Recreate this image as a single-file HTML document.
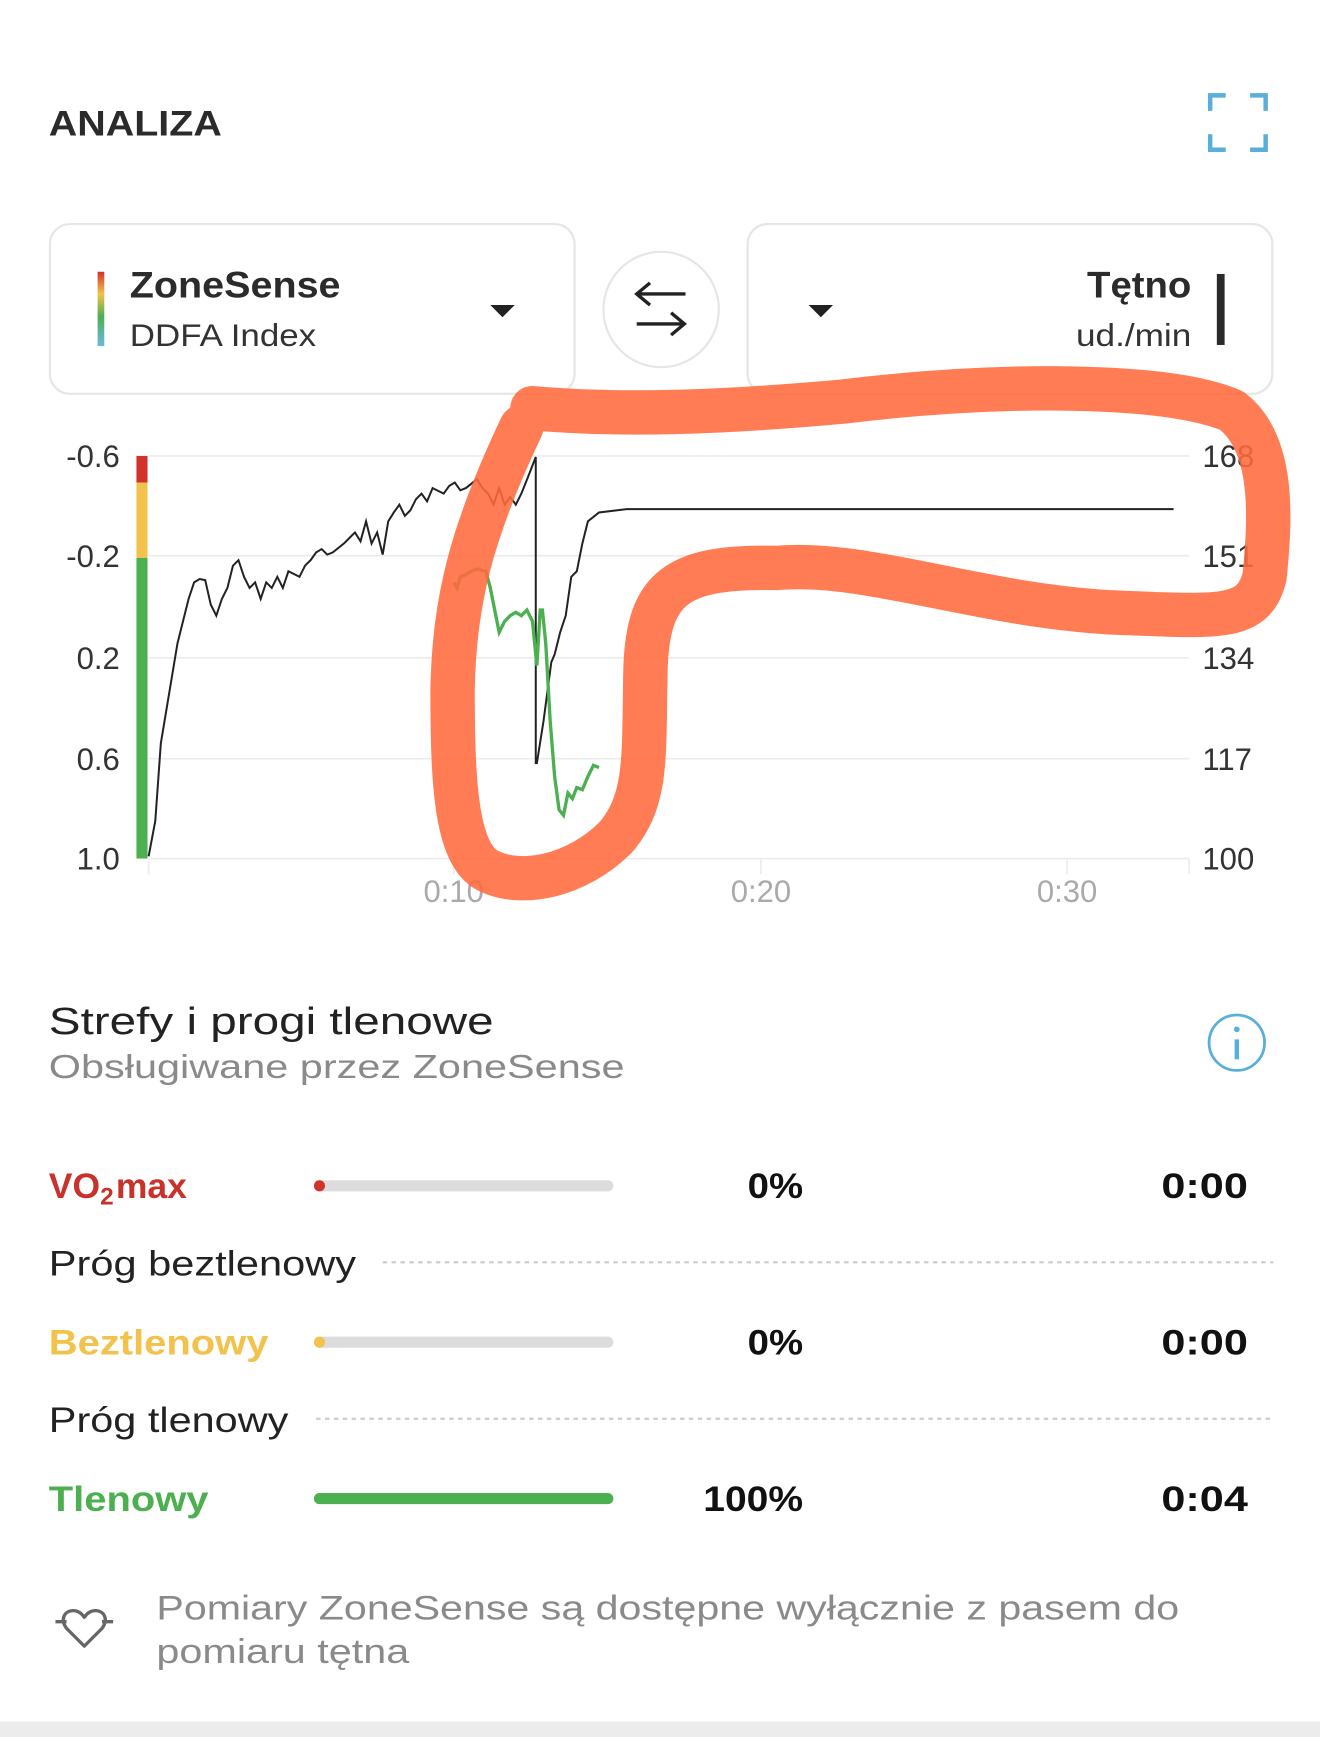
<!DOCTYPE html>
<html><head><meta charset="utf-8">
<style>
html,body{margin:0;padding:0;background:#fff;overflow:hidden;}
#w{width:1190px;height:1566px;transform:scale(1.109244);transform-origin:0 0;position:relative;font-family:"Liberation Sans",sans-serif;}
svg{position:absolute;left:0;top:0;}
</style></head><body><div id="w">
<svg width="1190" height="1566" viewBox="0 0 1190 1566" font-family="Liberation Sans, sans-serif">
<defs><linearGradient id="g" x1="0" y1="0" x2="0" y2="1">
<stop offset="0" stop-color="#d2322a"/><stop offset="0.3" stop-color="#f2c24c"/><stop offset="0.6" stop-color="#4caf50"/><stop offset="1" stop-color="#6bb8e0"/></linearGradient></defs>
<text x="44" y="122" font-size="32" font-weight="bold" fill="#2b2b2b" textLength="156" lengthAdjust="spacingAndGlyphs">ANALIZA</text>
<g stroke="#5aaedc" stroke-width="4" fill="none">
<path d="M1091 100V86H1105M1127 86H1141V100M1141 121V135H1127M1105 135H1091V121"/></g>
<rect x="45" y="202" width="473" height="153" rx="18" fill="#fff" stroke="#e6e6e6" stroke-width="2"/>
<rect x="674" y="202" width="473" height="153" rx="18" fill="#fff" stroke="#e6e6e6" stroke-width="2"/>
<rect x="88" y="245" width="6" height="67" fill="url(#g)"/>
<text x="117" y="268" font-size="33" font-weight="bold" fill="#2b2b2b" textLength="190" lengthAdjust="spacingAndGlyphs">ZoneSense</text>
<text x="117" y="312" font-size="28" fill="#333" textLength="168" lengthAdjust="spacingAndGlyphs">DDFA Index</text>
<path d="M442 275H464L453 286Z" fill="#222"/>
<path d="M729 275H751L740 286Z" fill="#222"/>
<circle cx="596" cy="279" r="52" fill="#fff" stroke="#e6e6e6" stroke-width="2"/>
<g stroke="#222" stroke-width="3" fill="none"><path d="M618 265H575M586 255L574 265L586 275M574 292H617M605 282L617 292L605 302"/></g>
<text x="980" y="268" font-size="33" font-weight="bold" fill="#2b2b2b" textLength="94" lengthAdjust="spacingAndGlyphs">Tętno</text>
<text x="970" y="312" font-size="28" fill="#333" textLength="104" lengthAdjust="spacingAndGlyphs">ud./min</text>
<rect x="1097" y="247" width="7" height="64" fill="#2b2b2b"/>
<g stroke="#ececec" stroke-width="1.5">
<line x1="134" y1="411" x2="1072" y2="411"/><line x1="134" y1="501" x2="1072" y2="501"/><line x1="134" y1="593" x2="1072" y2="593"/><line x1="134" y1="684" x2="1072" y2="684"/><line x1="134" y1="774" x2="1072" y2="774"/>
<line x1="134" y1="774" x2="134" y2="788"/><line x1="409" y1="774" x2="409" y2="788"/><line x1="686" y1="774" x2="686" y2="788"/><line x1="962" y1="774" x2="962" y2="788"/><line x1="1072" y1="774" x2="1072" y2="788"/></g>
<g font-size="28" fill="#333" text-anchor="end">
<text x="108" y="421">-0.6</text><text x="108" y="511">-0.2</text><text x="108" y="603">0.2</text><text x="108" y="694">0.6</text><text x="108" y="784">1.0</text></g>
<g font-size="28" fill="#333">
<text x="1084" y="421">168</text><text x="1084" y="511">151</text><text x="1084" y="603">134</text><text x="1084" y="694">117</text><text x="1084" y="784">100</text></g>
<g font-size="28" fill="#aaa" text-anchor="middle"><text x="409" y="813">0:10</text><text x="686" y="813">0:20</text><text x="962" y="813">0:30</text></g>
<rect x="123" y="411" width="10" height="24" fill="#d2322a"/><rect x="123" y="435" width="10" height="68" fill="#f2c24c"/><rect x="123" y="503" width="10" height="271" fill="#4caf50"/>
<polyline fill="none" stroke="#222" stroke-width="1.8" points="134,772 140,740 145,670 150,640 155,610 160,580 165,560 170,540 175,525 180,522 185,523 190,545 195,555 200,540 205,530 210,510 215,505 220,520 225,530 230,525 235,540 240,525 245,530 250,520 255,530 260,515 270,520 275,510 280,505 285,498 290,495 295,500 300,498 310,490 315,485 320,480 325,488 330,470 335,490 340,480 345,500 350,470 355,462 360,455 365,465 370,460 375,450 380,445 385,452 390,440 400,445 405,438 410,435 415,442 420,440 430,432 435,440 440,445 445,455 450,440 455,455 460,448 465,455 470,445 476,430 483,412 483,688 484,688 490,650 497,597 500,590 505,570 510,555 515,520 520,515 525,490 530,470 540,462 565,459 1058,459"/>
<polyline fill="none" stroke="#4caf50" stroke-width="3" points="409,525 412,530 415,520 420,518 425,515 430,513 438,515 442,530 447,555 450,570 455,560 460,555 465,552 470,555 475,550 480,560 484,600 487,550 489,550 492,580 496,650 500,700 504,730 508,735 512,715 516,720 520,710 525,712 530,700 535,690 540,692"/>
<path fill="none" stroke="#ff6a3d" stroke-opacity="0.88" stroke-width="40" stroke-linecap="round" stroke-linejoin="round" d="M480 368 C560 375 650 372 760 362 C900 345 1050 345 1110 370 C1150 400 1145 470 1140 520 C1130 560 1100 556 1000 552 C880 545 780 505 700 512 C610 510 585 530 582 600 C580 680 585 720 555 755 C520 790 470 800 440 785 C410 770 408 700 408 620 C410 540 425 480 470 385"/>
<text x="44" y="932" font-size="34" fill="#222" textLength="401" lengthAdjust="spacingAndGlyphs">Strefy i progi tlenowe</text>
<text x="44" y="972" font-size="30" fill="#8a8a8a" textLength="519" lengthAdjust="spacingAndGlyphs">Obsługiwane przez ZoneSense</text>
<circle cx="1115" cy="940" r="25" fill="none" stroke="#5aaedc" stroke-width="2.5"/>
<rect x="1113" y="937" width="4" height="18" fill="#5aaedc"/><circle cx="1115" cy="928" r="2.6" fill="#5aaedc"/>
<g font-size="32" font-weight="bold">
<text x="44" y="1080" fill="#c8322a">VO<tspan font-size="22" dy="6">2</tspan><tspan dy="-6" dx="2">max</tspan></text>
<text x="44" y="1221" fill="#f2c24c" textLength="198" lengthAdjust="spacingAndGlyphs">Beztlenowy</text>
<text x="44" y="1362" fill="#4caf50" textLength="144" lengthAdjust="spacingAndGlyphs">Tlenowy</text>
<g fill="#111">
<text x="674" y="1080" textLength="50" lengthAdjust="spacingAndGlyphs">0%</text><text x="1047" y="1080" textLength="78" lengthAdjust="spacingAndGlyphs">0:00</text>
<text x="674" y="1221" textLength="50" lengthAdjust="spacingAndGlyphs">0%</text><text x="1047" y="1221" textLength="78" lengthAdjust="spacingAndGlyphs">0:00</text>
<text x="634" y="1362" textLength="90" lengthAdjust="spacingAndGlyphs">100%</text><text x="1047" y="1362" textLength="78" lengthAdjust="spacingAndGlyphs">0:04</text></g></g>
<rect x="283" y="1064" width="270" height="10" rx="5" fill="#dcdcdc"/><circle cx="288" cy="1069" r="5" fill="#d2322a"/>
<rect x="283" y="1205" width="270" height="10" rx="5" fill="#dcdcdc"/><circle cx="288" cy="1210" r="5" fill="#f2c24c"/>
<rect x="283" y="1346" width="270" height="10" rx="5" fill="#4caf50"/>
<text x="44" y="1150" font-size="32" fill="#222" textLength="277" lengthAdjust="spacingAndGlyphs">Próg beztlenowy</text>
<text x="44" y="1291" font-size="32" fill="#222" textLength="216" lengthAdjust="spacingAndGlyphs">Próg tlenowy</text>
<line x1="345" y1="1138" x2="1148" y2="1138" stroke="#ccc" stroke-width="2" stroke-dasharray="4 4"/>
<line x1="285" y1="1279" x2="1145" y2="1279" stroke="#ccc" stroke-width="2" stroke-dasharray="4 4"/>
<path d="M50 1462H60M92 1462H102M76 1484L60 1468C54 1460 58 1452 66 1452C71 1452 74 1455 76 1458C78 1455 81 1452 86 1452C94 1452 98 1460 92 1468Z" fill="none" stroke="#666" stroke-width="3" stroke-linejoin="round"/>
<text x="141" y="1460" font-size="31" fill="#8a8a8a" textLength="922" lengthAdjust="spacingAndGlyphs">Pomiary ZoneSense są dostępne wyłącznie z pasem do</text>
<text x="141" y="1499" font-size="31" fill="#8a8a8a" textLength="228" lengthAdjust="spacingAndGlyphs">pomiaru tętna</text>
<rect x="0" y="1552" width="1190" height="14" fill="#ececec"/>
</svg></div></body></html>
